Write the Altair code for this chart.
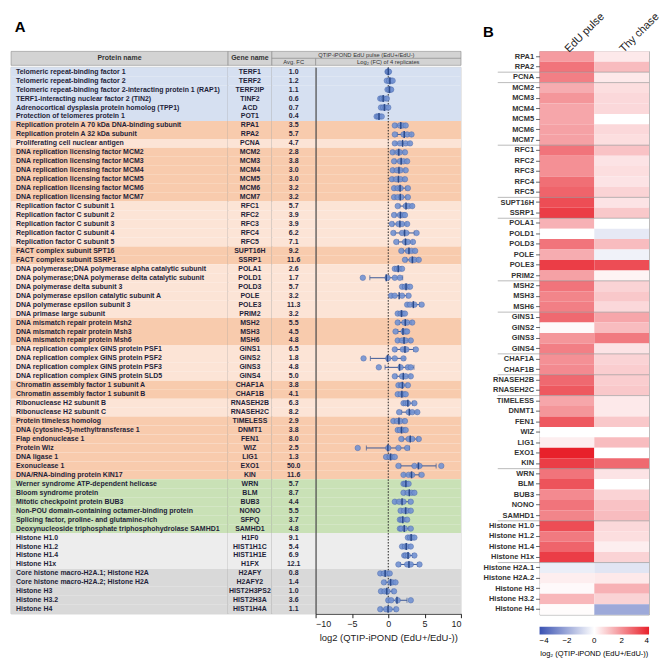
import altair as alt
import pandas as pd

# ---------------- Panel A data ----------------
proteins = [
    "Telomeric repeat-binding factor 1",
    "Telomeric repeat-binding factor 2",
    "Telomeric repeat-binding factor 2-interacting protein 1 (RAP1)",
    "TERF1-interacting nuclear factor 2 (TIN2)",
    "Adrenocortical dysplasia protein homolog (TPP1)",
    "Protection of telomeres protein 1",
    "Replication protein A 70 kDa DNA-binding subunit",
    "Replication protein A 32 kDa subunit",
    "Proliferating cell nuclear antigen",
    "DNA replication licensing factor MCM2",
    "DNA replication licensing factor MCM3",
    "DNA replication licensing factor MCM4",
    "DNA replication licensing factor MCM5",
    "DNA replication licensing factor MCM6",
    "DNA replication licensing factor MCM7",
    "Replication factor C subunit 1",
    "Replication factor C subunit 2",
    "Replication factor C subunit 3",
    "Replication factor C subunit 4",
    "Replication factor C subunit 5",
    "FACT complex subunit SPT16",
    "FACT complex subunit SSRP1",
    "DNA polymerase;DNA polymerase alpha catalytic subunit",
    "DNA polymerase;DNA polymerase delta catalytic subunit",
    "DNA polymerase delta subunit 3",
    "DNA polymerase epsilon catalytic subunit A",
    "DNA polymerase epsilon subunit 3",
    "DNA primase large subunit",
    "DNA mismatch repair protein Msh2",
    "DNA mismatch repair protein Msh3",
    "DNA mismatch repair protein Msh6",
    "DNA replication complex GINS protein PSF1",
    "DNA replication complex GINS protein PSF2",
    "DNA replication complex GINS protein PSF3",
    "DNA replication complex GINS protein SLD5",
    "Chromatin assembly factor 1 subunit A",
    "Chromatin assembly factor 1 subunit B",
    "Ribonuclease H2 subunit B",
    "Ribonuclease H2 subunit C",
    "Protein timeless homolog",
    "DNA (cytosine-5)-methyltransferase 1",
    "Flap endonuclease 1",
    "Protein Wiz",
    "DNA ligase 1",
    "Exonuclease 1",
    "DNA/RNA-binding protein KIN17",
    "Werner syndrome ATP-dependent helicase",
    "Bloom syndrome protein",
    "Mitotic checkpoint protein BUB3",
    "Non-POU domain-containing octamer-binding protein",
    "Splicing factor, proline- and glutamine-rich",
    "Deoxynucleoside triphosphate triphosphohydrolase SAMHD1",
    "Histone H1.0",
    "Histone H1.2",
    "Histone H1.4",
    "Histone H1x",
    "Core histone macro-H2A.1; Histone H2A",
    "Core histone macro-H2A.2; Histone H2A",
    "Histone H3",
    "Histone H3.2",
    "Histone H4",
]
genes = [
    "TERF1", "TERF2", "TERF2IP", "TINF2", "ACD", "POT1", "RPA1", "RPA2", "PCNA",
    "MCM2", "MCM3", "MCM4", "MCM5", "MCM6", "MCM7", "RFC1", "RFC2", "RFC3", "RFC4",
    "RFC5", "SUPT16H", "SSRP1", "POLA1", "POLD1", "POLD3", "POLE", "POLE3", "PRIM2",
    "MSH2", "MSH3", "MSH6", "GINS1", "GINS2", "GINS3", "GINS4", "CHAF1A", "CHAF1B",
    "RNASEH2B", "RNASEH2C", "TIMELESS", "DNMT1", "FEN1", "WIZ", "LIG1", "EXO1", "KIN",
    "WRN", "BLM", "BUB3", "NONO", "SFPQ", "SAMHD1", "H1F0", "HIST1H1C", "HIST1H1E",
    "H1FX", "H2AFY", "H2AFY2", "HIST2H3PS2", "HIST2H3A", "HIST1H4A",
]
avg_fc = [
    1.0, 1.2, 1.1, 0.6, 0.7, 0.4, 3.5, 5.7, 4.7, 2.8, 3.8, 3.0, 3.0, 3.2, 3.2,
    5.7, 3.9, 3.9, 6.2, 7.1, 9.2, 11.6, 2.6, 1.7, 5.7, 3.2, 11.3, 3.2, 5.5, 4.5,
    4.8, 6.5, 1.8, 4.8, 5.0, 3.8, 4.1, 6.3, 8.2, 2.9, 3.8, 8.0, 2.5, 1.3, 50.0,
    11.6, 5.7, 8.7, 4.4, 5.5, 3.7, 4.8, 9.1, 5.4, 6.9, 12.1, 0.8, 1.4, 1.0, 3.6, 1.1,
]
row_group = (
    ["tel"] * 6 + ["dark"] * 2 + ["light"] + ["dark"] * 6 + ["light"] * 5
    + ["dark"] * 2 + ["light"] * 6 + ["dark"] * 3 + ["light"] * 4 + ["dark"] * 2
    + ["light"] * 2 + ["dark"] * 7 + ["helic"] * 6 + ["h1"] * 4 + ["core"] * 5
)
# log2 fold change of the four replicates
rep1 = [-0.1, -0.2, -0.1, -1.1, -1.0, -1.6, 0.9, 0.9, 0.9, 0.6, 0.8, 0.6, 0.5, 0.8, 0.8,
        1.3, 0.8, 0.5, 0.7, 1.1, 1.8, 2.3, 0.9, -3.5, 1.9, 0.4, 2.6, 1.3, 1.3, 1.0,
        1.3, 0.9, -3.4, -1.3, 0.9, 1.4, 1.3, 2.1, 1.5, 0.7, 1.3, 1.8, -4.2, -0.3, 1.4,
        2.1, 2.1, 2.1, 0.9, 1.7, 1.6, 1.6, 2.7, 1.9, 2.2, 1.4, -1.1, -0.6, -1.0, 0.0, -1.1]
rep2 = [0.0, 0.1, 0.1, -0.9, -0.7, -1.4, 1.6, 2.1, 1.6, 1.3, 1.6, 1.2, 1.1, 1.3, 1.3,
        2.4, 1.6, 1.4, 1.9, 2.3, 2.7, 3.2, 1.2, -0.1, 2.3, 0.9, 3.0, 1.7, 2.2, 2.1,
        1.9, 2.0, 0.0, 1.7, 1.9, 1.8, 1.7, 2.4, 2.8, 1.2, 1.6, 2.8, 0.0, 0.2, 3.6,
        2.8, 2.3, 2.7, 1.5, 2.2, 1.8, 1.8, 3.0, 2.3, 2.4, 2.6, -0.6, 0.3, -0.5, 0.4, -0.3]
rep3 = [0.0, 0.4, 0.3, -0.6, -0.4, -1.2, 2.0, 2.6, 2.4, 1.6, 2.1, 1.7, 1.7, 1.7, 1.8,
        2.8, 2.0, 1.9, 2.5, 2.7, 3.2, 3.6, 1.5, 0.9, 2.6, 1.9, 3.6, 2.0, 2.6, 2.4,
        2.4, 2.5, 0.9, 2.7, 2.4, 1.9, 2.1, 2.7, 3.3, 1.7, 2.0, 3.3, 1.4, 0.5, 4.3,
        3.3, 2.5, 3.2, 2.1, 2.6, 2.0, 2.3, 3.3, 2.6, 2.7, 3.1, -0.2, 0.6, -0.1, 1.3, 0.2]
rep4 = [0.1, 0.6, 0.4, -0.2, 0.0, -0.9, 2.4, 3.2, 3.0, 2.3, 2.6, 2.4, 2.3, 2.7, 2.7,
        3.3, 2.3, 2.6, 3.9, 3.4, 3.7, 4.2, 1.9, 1.6, 3.0, 2.8, 4.6, 2.3, 3.3, 2.6,
        3.1, 3.8, 2.1, 3.1, 3.1, 2.7, 2.4, 3.6, 4.0, 2.3, 2.4, 4.2, 2.6, 0.9, 7.3,
        4.6, 2.8, 3.6, 3.1, 3.1, 2.6, 3.1, 3.6, 3.1, 3.6, 4.3, 0.2, 1.0, 0.8, 3.1, 1.1]

# ---------------- Panel B data ----------------
hm_labels = [
    "RPA1", "RPA2", "PCNA", "MCM2", "MCM3", "MCM4", "MCM5", "MCM6", "MCM7", "RFC1",
    "RFC2", "RFC3", "RFC4", "RFC5", "SUPT16H", "SSRP1", "POLA1", "POLD1", "POLD3",
    "POLE", "POLE3", "PRIM2", "MSH2", "MSH3", "MSH6", "GINS1", "GINS2", "GINS3",
    "GINS4", "CHAF1A", "CHAF1B", "RNASEH2B", "RNASEH2C", "TIMELESS", "DNMT1", "FEN1",
    "WIZ", "LIG1", "EXO1", "KIN", "WRN", "BLM", "BUB3", "NONO", "SAMHD1",
    "Histone H1.0", "Histone H1.2", "Histone H1.4", "Histone H1x", "Histone H2A.1",
    "Histone H2A.2", "Histone H3", "Histone H3.2", "Histone H4",
]
hm_edu = [1.8, 2.5, 2.3, 1.5, 1.9, 1.6, 1.6, 1.7, 1.7, 2.5, 2.0, 2.0, 2.6, 2.8, 3.2, 3.5,
          1.4, 0.0, 2.5, 1.5, 3.5, 1.7, 2.5, 2.2, 2.3, 2.7, 0.1, 1.9, 2.3, 2.0, 2.1, 2.7,
          3.0, 1.6, 1.9, 3.0, 0.0, 0.3, 4.0, 3.5, 2.5, 3.1, 2.1, 2.5, 2.2, 3.2, 2.4, 2.8,
          3.5, -0.4, 0.3, 0.1, 1.3, 0.05]
hm_thy = [0.4, 1.2, 0.4, 0.6, 0.7, 0.7, 0.0, 0.7, 0.6, 1.1, 0.5, 0.6, 0.5, 0.8, 0.5, 1.0,
          0.0, -0.5, 1.2, -0.3, 3.2, 0.2, 0.8, 1.0, 0.7, 1.6, 1.2, 2.4, 0.5, 0.8, 0.9, 0.9,
          1.0, 0.4, 0.4, 1.0, 0.0, 1.2, 0.0, 2.7, 0.5, 0.0, 0.8, 1.1, 1.2, 0.7, 0.6, 0.3,
          0.8, -0.6, 0.4, 1.4, 0.8, -2.0]
hm_conditions = ["EdU pulse", "Thy chase"]
hm_group_starts = ["PCNA", "MCM2", "RFC1", "SUPT16H", "POLA1", "MSH2", "GINS1", "CHAF1A",
                   "RNASEH2B", "TIMELESS", "WRN", "Histone H1.0", "Histone H2A.1"]

# ---------------- Styles ----------------
FONT = "Liberation Sans"
grp_keys = ["tel", "dark", "light", "helic", "h1", "core"]
grp_colors = ["#d6e0f1", "#f8cbad", "#fce4d6", "#c9e1b6", "#ededed", "#d9d9d9"]
TXT = "#1f1f3a"
ROW_H = 9
N = len(genes)
BODY_H = ROW_H * N

rows = pd.DataFrame({"protein": proteins, "gene": genes, "fc": avg_fc, "grp": row_group})
long = pd.DataFrame({
    "gene": genes * 4,
    "v": rep1 + rep2 + rep3 + rep4,
})


def ysc(axis=None):
    return alt.Y("gene:N", sort=genes, axis=axis,
                 scale=alt.Scale(type="band", paddingInner=0, paddingOuter=0))


def bg_layer():
    return alt.Chart(rows).mark_rect().encode(
        y=ysc(),
        fill=alt.Fill("grp:N", scale=alt.Scale(domain=grp_keys, range=grp_colors), legend=None),
    )


cell_view = alt.ViewBackground(stroke="#9a9a9a", strokeWidth=0.6)

col_protein = alt.layer(
    bg_layer(),
    alt.Chart(rows).mark_text(align="left", baseline="middle", fontSize=7, fontWeight="bold",
                              color=TXT).encode(y=ysc(), x=alt.value(5), text="protein:N"),
).properties(width=218, height=BODY_H, view=cell_view)

col_gene = alt.layer(
    bg_layer(),
    alt.Chart(rows).mark_text(align="center", baseline="middle", fontSize=7, fontWeight="bold",
                              color=TXT).encode(y=ysc(), text="gene:N"),
).properties(width=44, height=BODY_H, view=cell_view)

col_fc = alt.layer(
    bg_layer(),
    alt.Chart(rows).mark_text(align="center", baseline="middle", fontSize=7, fontWeight="bold",
                              color=TXT).encode(y=ysc(), text=alt.Text("fc:Q", format=".1f")),
).properties(width=44, height=BODY_H, view=cell_view)

xaxis = alt.Axis(values=[-10, -5, 0, 5, 10], grid=False, tickSize=4, labelPadding=2,
                 labelFontSize=9, titleFontSize=9.5, titleFontWeight="normal",
                 domainColor="#222", tickColor="#222", labelColor="#222", titleColor="#222",
                 titlePadding=4, title="log2 (QTIP-iPOND (EdU+/EdU-))")
xscale = alt.Scale(domain=[-10, 10], nice=False)
yax = alt.Axis(labels=False, ticks=False, domain=True, domainColor="#333", grid=False, title=None)

base = alt.Chart(long)
col_plot = alt.layer(
    bg_layer().encode(y=ysc(yax)),
    alt.Chart(pd.DataFrame({"z": [0]})).mark_rule(color="#222", strokeWidth=1,
                                                  strokeDash=[1.5, 1.5]).encode(
        x=alt.X("z:Q", scale=xscale, axis=xaxis)),
    base.mark_errorbar(extent="stdev", ticks={"size": 5}, color="#3b5896", thickness=1).encode(
        x=alt.X("v:Q", scale=xscale, axis=xaxis), y=ysc(yax)),
    base.mark_circle(size=30, color="#7393d3", opacity=0.9, stroke="#4f6db0",
                     strokeWidth=0.6).encode(
        x=alt.X("v:Q", scale=xscale, axis=xaxis), y=ysc(yax)),
    base.mark_tick(color="#2b4a8a", thickness=1.5, size=7).encode(
        x=alt.X("mean(v):Q", scale=xscale, axis=xaxis), y=ysc(yax)),
).properties(width=146, height=BODY_H, view=alt.ViewBackground(stroke="#b0b0b0", strokeWidth=0.6))


def hdr(label, w, h, fs, weight):
    return alt.Chart(pd.DataFrame({"t": [label]})).mark_text(
        fontSize=fs, fontWeight=weight, color="#333", baseline="middle", align="center"
    ).encode(text="t:N").properties(
        width=w, height=h,
        view=alt.ViewBackground(fill="#d3d3d3", stroke="#8a8a8a", strokeWidth=0.6))


header = alt.hconcat(
    hdr("Protein name", 218, 14, 7, "bold"),
    hdr("Gene name", 44, 14, 7, "bold"),
    alt.vconcat(
        hdr("QTIP-iPOND EdU pulse (EdU+/EdU-)", 190, 7, 5.8, "normal"),
        alt.hconcat(hdr("Avg. FC", 44, 7, 5.8, "normal"),
                    hdr("Log₂ (FC) of 4 replicates", 146, 7, 5.8, "normal"),
                    spacing=0, bounds="flush"),
        spacing=0, bounds="flush"),
    spacing=0, bounds="flush")

body = alt.hconcat(col_protein, col_gene, col_fc, col_plot, spacing=0, bounds="flush")

panelA = alt.vconcat(
    header, body, spacing=0,
    title=alt.TitleParams("A", anchor="start", fontSize=15, fontWeight="bold", offset=16,
                          dx=4, color="#000"),
)

# ---------------- Panel B ----------------
hm = pd.DataFrame({
    "label": hm_labels * 2,
    "cond": [hm_conditions[0]] * len(hm_labels) + [hm_conditions[1]] * len(hm_labels),
    "val": hm_edu + hm_thy,
})
HM_W, HM_H = 110, 566
yscale_b = alt.Scale(paddingInner=0, paddingOuter=0)
yaxis_b = alt.Axis(title=None, labelFontSize=7.5, labelFontWeight="bold", labelColor="#333",
                   tickSize=4, tickColor="#666", domain=False, labelPadding=2)

heat = alt.Chart(hm).mark_rect().encode(
    x=alt.X("cond:N", sort=hm_conditions, scale=alt.Scale(paddingInner=0, paddingOuter=0),
            axis=alt.Axis(orient="top", labelAngle=315, labelAlign="left", labelBaseline="middle",
                          ticks=False, domain=False, labelFontSize=11, labelPadding=1,
                          labelColor="#222", title=None)),
    y=alt.Y("label:N", sort=hm_labels, scale=yscale_b, axis=yaxis_b),
    color=alt.Color("val:Q",
                    scale=alt.Scale(domain=[-4, 0, 4], range=["#3a52b2", "#ffffff", "#e8212b"],
                                    interpolate="rgb"),
                    legend=alt.Legend(orient="none", legendX=0, legendY=HM_H + 12,
                                      direction="horizontal", gradientLength=HM_W,
                                      gradientThickness=8, values=[-4, -2, 0, 2, 4],
                                      labelFontSize=8, titleOrient="bottom",
                                      titleFontSize=7.5, titleFontWeight="normal",
                                      titleAnchor="middle", gradientStrokeColor="#999",
                                      title="log₂ (QTIP-iPOND (EdU+/EdU-))")),
)
seps = alt.Chart(pd.DataFrame({"label": hm_group_starts})).mark_rule(
    color="#8c8c8c", strokeWidth=0.6).encode(
    y=alt.Y("label:N", sort=hm_labels, scale=yscale_b, axis=yaxis_b, bandPosition=0),
    x=alt.value(-42), x2=alt.value(HM_W))

panelB = alt.layer(heat, seps).properties(
    width=HM_W, height=HM_H,
    view=alt.ViewBackground(stroke="#999", strokeWidth=0.8),
    title=alt.TitleParams("B", anchor="start", fontSize=15, fontWeight="bold", dy=30, offset=0,
                          color="#000"),
)

chart = alt.hconcat(panelA, panelB, spacing=20).resolve_scale(
    color="independent").resolve_legend(color="independent").properties(
    padding={"left": 2, "top": 0, "right": 0, "bottom": 0}
).configure(font=FONT).configure_view(stroke=None)

chart.save("out.html", embed_options={"renderer": "svg", "actions": False})
